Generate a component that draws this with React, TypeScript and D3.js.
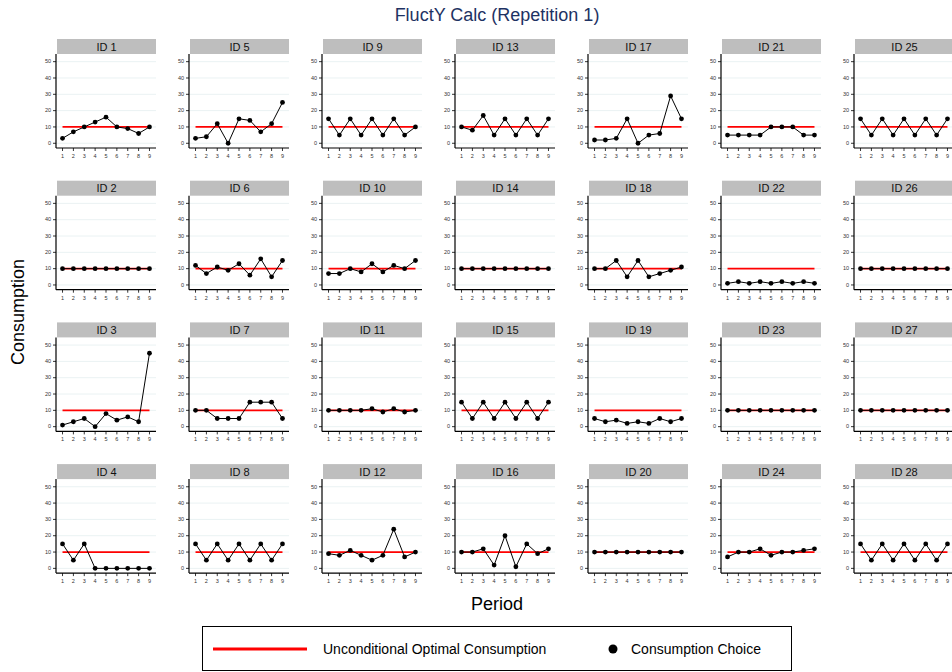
import React from "react";
import * as d3 from "d3";

const periods = [1, 2, 3, 4, 5, 6, 7, 8, 9];
const yTicks = [0, 10, 20, 30, 40, 50];
const optimal = 10;

const ids = [1,2,3,4,5,6,7,8,9,10,11,12,13,14,15,16,17,18,19,20,21,22,23,24,25,26,27,28];

const id1 = [3, 7, 10, 13, 16, 10, 9, 6, 10];
const id2 = [10, 10, 10, 10, 10, 10, 10, 10, 10];
const id3 = [1, 3, 5, 0, 8, 4, 6, 3, 45];
const id4 = [15, 5, 15, 0, 0, 0, 0, 0, 0];
const id5 = [3, 4, 12, 0, 15, 14, 7, 12, 25];
const id6 = [12, 7, 11, 9, 13, 6, 16, 5, 15];
const id7 = [10, 10, 5, 5, 5, 15, 15, 15, 5];
const id8 = [15, 5, 15, 5, 15, 5, 15, 5, 15];
const id9 = [15, 5, 15, 5, 15, 5, 15, 5, 10];
const id10 = [7, 7, 10, 8, 13, 8, 12, 10, 15];
const id11 = [10, 10, 10, 10, 11, 9, 11, 9, 10];
const id12 = [9, 8, 11, 8, 5, 8, 24, 7, 10];
const id13 = [10, 8, 17, 5, 15, 5, 15, 5, 15];
const id14 = [10, 10, 10, 10, 10, 10, 10, 10, 10];
const id15 = [15, 5, 15, 5, 15, 5, 15, 5, 15];
const id16 = [10, 10, 12, 2, 20, 1, 15, 9, 12];
const id17 = [2, 2, 3, 15, 0, 5, 6, 29, 15];
const id18 = [10, 10, 15, 5, 15, 5, 7, 9, 11];
const id19 = [5, 3, 4, 2, 3, 2, 5, 3, 5];
const id20 = [10, 10, 10, 10, 10, 10, 10, 10, 10];
const id21 = [5, 5, 5, 5, 10, 10, 10, 5, 5];
const id22 = [1, 2, 1, 2, 1, 2, 1, 2, 1];
const id23 = [10, 10, 10, 10, 10, 10, 10, 10, 10];
const id24 = [7, 10, 10, 12, 8, 10, 10, 11, 12];
const id25 = [15, 5, 15, 5, 15, 5, 15, 5, 15];
const id26 = [10, 10, 10, 10, 10, 10, 10, 10, 10];
const id27 = [10, 10, 10, 10, 10, 10, 10, 10, 10];
const id28 = [15, 5, 15, 5, 15, 5, 15, 5, 15];

const series = [id1,id2,id3,id4,id5,id6,id7,id8,id9,id10,id11,id12,id13,id14,id15,id16,id17,id18,id19,id20,id21,id22,id23,id24,id25,id26,id27,id28];

const FONT = "'Liberation Sans', Arial, Helvetica, sans-serif";

const colX0 = 56;
const colPitch = 133;
const rowY0 = 39;
const rowPitch = 141.7;
const stripH = 15;
const plotW = 100;
const plotH = 94;

const x = d3.scaleLinear().domain([0.4, 9.6]).range([0, plotW]);
const y = d3.scaleLinear().domain([-2.9, 54.7]).range([plotH, 0]);
const line = d3.line<number>().x((_, i) => x(periods[i])).y((d) => y(d));

function Panel({ id, values, col, row }: { id: number; values: number[]; col: number; row: number }) {
  const tx = colX0 + col * colPitch;
  const ty = rowY0 + row * rowPitch;
  return (
    <g transform={`translate(${tx},${ty})`}>
      <rect x={1} y={0} width={plotW - 1} height={stripH} fill="#bebebe" />
      <text x={plotW / 2 + 0.5} y={stripH / 2 + 4} textAnchor="middle" fontSize={11} fontFamily={FONT} fill="#111">
        ID {id}
      </text>
      <g transform={`translate(0,${stripH})`}>
        {yTicks.map((t) => (
          <line key={t} x1={0} x2={plotW} y1={y(t)} y2={y(t)} stroke="#eaf2f3" strokeWidth={1} />
        ))}
        <line x1={x(1)} x2={x(9)} y1={y(optimal)} y2={y(optimal)} stroke="#ff0000" strokeWidth={1.8} />
        <path d={line(values) || ""} fill="none" stroke="#000" strokeWidth={1} />
        {values.map((v, i) => (
          <circle key={i} cx={x(periods[i])} cy={y(v)} r={2.4} fill="#000" />
        ))}
        <line x1={0} x2={0} y1={0} y2={plotH} stroke="#000" strokeWidth={1.2} />
        <line x1={0} x2={plotW} y1={plotH} y2={plotH} stroke="#000" strokeWidth={1.2} />
        {yTicks.map((t) => (
          <g key={t} transform={`translate(0,${y(t)})`}>
            <line x1={-3} x2={0} stroke="#000" strokeWidth={0.8} />
            <text x={-5} dy="0.32em" textAnchor="end" fontSize={5.5} fontFamily={FONT} fill="#333">
              {t}
            </text>
          </g>
        ))}
        {periods.map((p) => (
          <g key={p} transform={`translate(${x(p)},${plotH})`}>
            <line y1={0} y2={3} stroke="#000" strokeWidth={0.8} />
            <text y={10} textAnchor="middle" fontSize={5.5} fontFamily={FONT} fill="#333">
              {p}
            </text>
          </g>
        ))}
      </g>
    </g>
  );
}

export default function App() {
  return (
    <svg width={952} height={672} style={{ position: "absolute", left: 0, top: 0, background: "#fff" }}>
      <rect width={952} height={672} fill="#fff" />
      <text x={497} y={21} textAnchor="middle" fontSize={18} fontFamily={FONT} fill="#1e3263">
        FluctY Calc (Repetition 1)
      </text>
      {ids.map((id, i) => (
        <Panel key={id} id={id} values={series[i]} col={Math.floor(i / 4)} row={i % 4} />
      ))}
      <text transform="translate(24,312) rotate(-90)" textAnchor="middle" fontSize={18} fontFamily={FONT} fill="#000">
        Consumption
      </text>
      <text x={497} y={610} textAnchor="middle" fontSize={18} fontFamily={FONT} fill="#000">
        Period
      </text>
      <rect x={202.5} y={626.5} width={589} height={44} fill="#fff" stroke="#000" strokeWidth={1} />
      <line x1={213} x2={307} y1={649} y2={649} stroke="#ff0000" strokeWidth={3} />
      <text x={323} y={654} fontSize={14} fontFamily={FONT} fill="#000">
        Unconditional Optimal Consumption
      </text>
      <circle cx={613} cy={649} r={4.5} fill="#000" />
      <text x={631} y={654} fontSize={14} fontFamily={FONT} fill="#000">
        Consumption Choice
      </text>
    </svg>
  );
}
